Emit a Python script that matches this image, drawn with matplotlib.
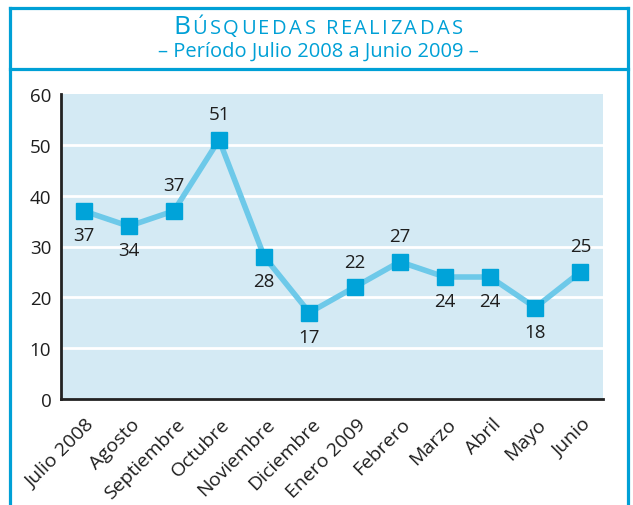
import matplotlib
matplotlib.use("Agg")
import matplotlib.pyplot as plt
from matplotlib.lines import Line2D
from matplotlib.transforms import ScaledTranslation

months = ["Julio 2008", "Agosto", "Septiembre", "Octubre", "Noviembre", "Diciembre",
          "Enero 2009", "Febrero", "Marzo", "Abril", "Mayo", "Junio"]
searches = [37, 34, 37, 51, 28, 17, 22, 27, 24, 24, 18, 25]
label_above = [False, False, True, True, False, False, True, True, False, False, False, True]
y_ticks = [0, 10, 20, 30, 40, 50, 60]

FONT = "Open Sans"
BLUE = "#00a0d6"
TXT = "#1e1e1e"
plt.rcParams['font.family'] = [FONT, 'DejaVu Sans']

W, H = 633, 506
fig = plt.figure(figsize=(W / 100, H / 100), dpi=100)
fig.patch.set_facecolor("white")

ax = fig.add_axes([61 / W, 1 - 400 / H, (603 - 61) / W, (400 - 95) / H])
ax.set_facecolor("#d4eaf4")
x = list(range(len(months)))
ax.plot(x, searches, color="#6dc9e9", lw=4, zorder=3)
ax.plot(x, searches, ls="none", marker="s", ms=11.5, color="#00a3d9", zorder=4)

for xi, v, up in zip(x, searches, label_above):
    ax.annotate(str(v), (xi, v), xytext=(0, 12 if up else -11), textcoords="offset points",
                ha="center", va="bottom" if up else "top", fontsize=13.5, color=TXT)

ax.set_xlim(-0.5, len(months) - 0.5)
ax.set_ylim(0, 60)
ax.set_yticks(y_ticks)
ax.set_yticklabels([str(t) for t in y_ticks], fontsize=13.5, color=TXT)
ax.set_xticks(x)
ax.set_xticklabels(months, rotation=45, ha="right", va="center", rotation_mode="anchor",
                   fontsize=14, color=TXT)
ax.tick_params(axis="both", length=0)
ax.tick_params(axis="y", pad=7)
ax.tick_params(axis="x", pad=0)
off = ScaledTranslation(8 / 100, -22 / 100, fig.dpi_scale_trans)
for lab in ax.get_xticklabels():
    lab.set_transform(lab.get_transform() + off)
for yv in y_ticks[1:-1]:
    ax.axhline(yv, color="white", lw=2, zorder=1)
for s in ["top", "right"]:
    ax.spines[s].set_visible(False)
for s in ["left", "bottom"]:
    ax.spines[s].set_color("#222222")
    ax.spines[s].set_linewidth(2)

def fx(px):
    return px / W

def fy(py):
    return 1 - py / H

lw = 2.3
fig.add_artist(Line2D([fx(10), fx(10)], [fy(9), 0], color=BLUE, lw=lw))
fig.add_artist(Line2D([fx(628), fx(628)], [fy(9), 0], color=BLUE, lw=lw))
fig.add_artist(Line2D([fx(10), fx(628)], [fy(9), fy(9)], color=BLUE, lw=lw))
fig.add_artist(Line2D([fx(10), fx(628)], [fy(70), fy(70)], color=BLUE, lw=lw))

# title in letter-spaced small caps
renderer = fig.canvas.get_renderer()
title_chars = [("B", 19)] + [(c, 14.5) for c in "ÚSQUEDAS REALIZADAS"]
left_px, right_px, base_px = 173, 463, 34
texts, widths = [], []
for ch, sz in title_chars:
    if ch == " ":
        texts.append(None)
        widths.append(sz * 100 / 72 * 0.26)
        continue
    t = fig.text(0, fy(base_px), ch, fontsize=sz, color=BLUE, ha="left", va="baseline")
    texts.append(t)
    widths.append(t.get_window_extent(renderer).width)
gap = (right_px - left_px - sum(widths)) / (len(widths) - 1)
cur = left_px
for t, w in zip(texts, widths):
    if t is not None:
        t.set_x(fx(cur))
    cur += w + gap

fig.text(fx(318), fy(57), "– Período Julio 2008 a Junio 2009 –", ha="center", va="baseline",
         fontsize=14.5, color=BLUE)

fig.savefig("out.png", dpi=100)
